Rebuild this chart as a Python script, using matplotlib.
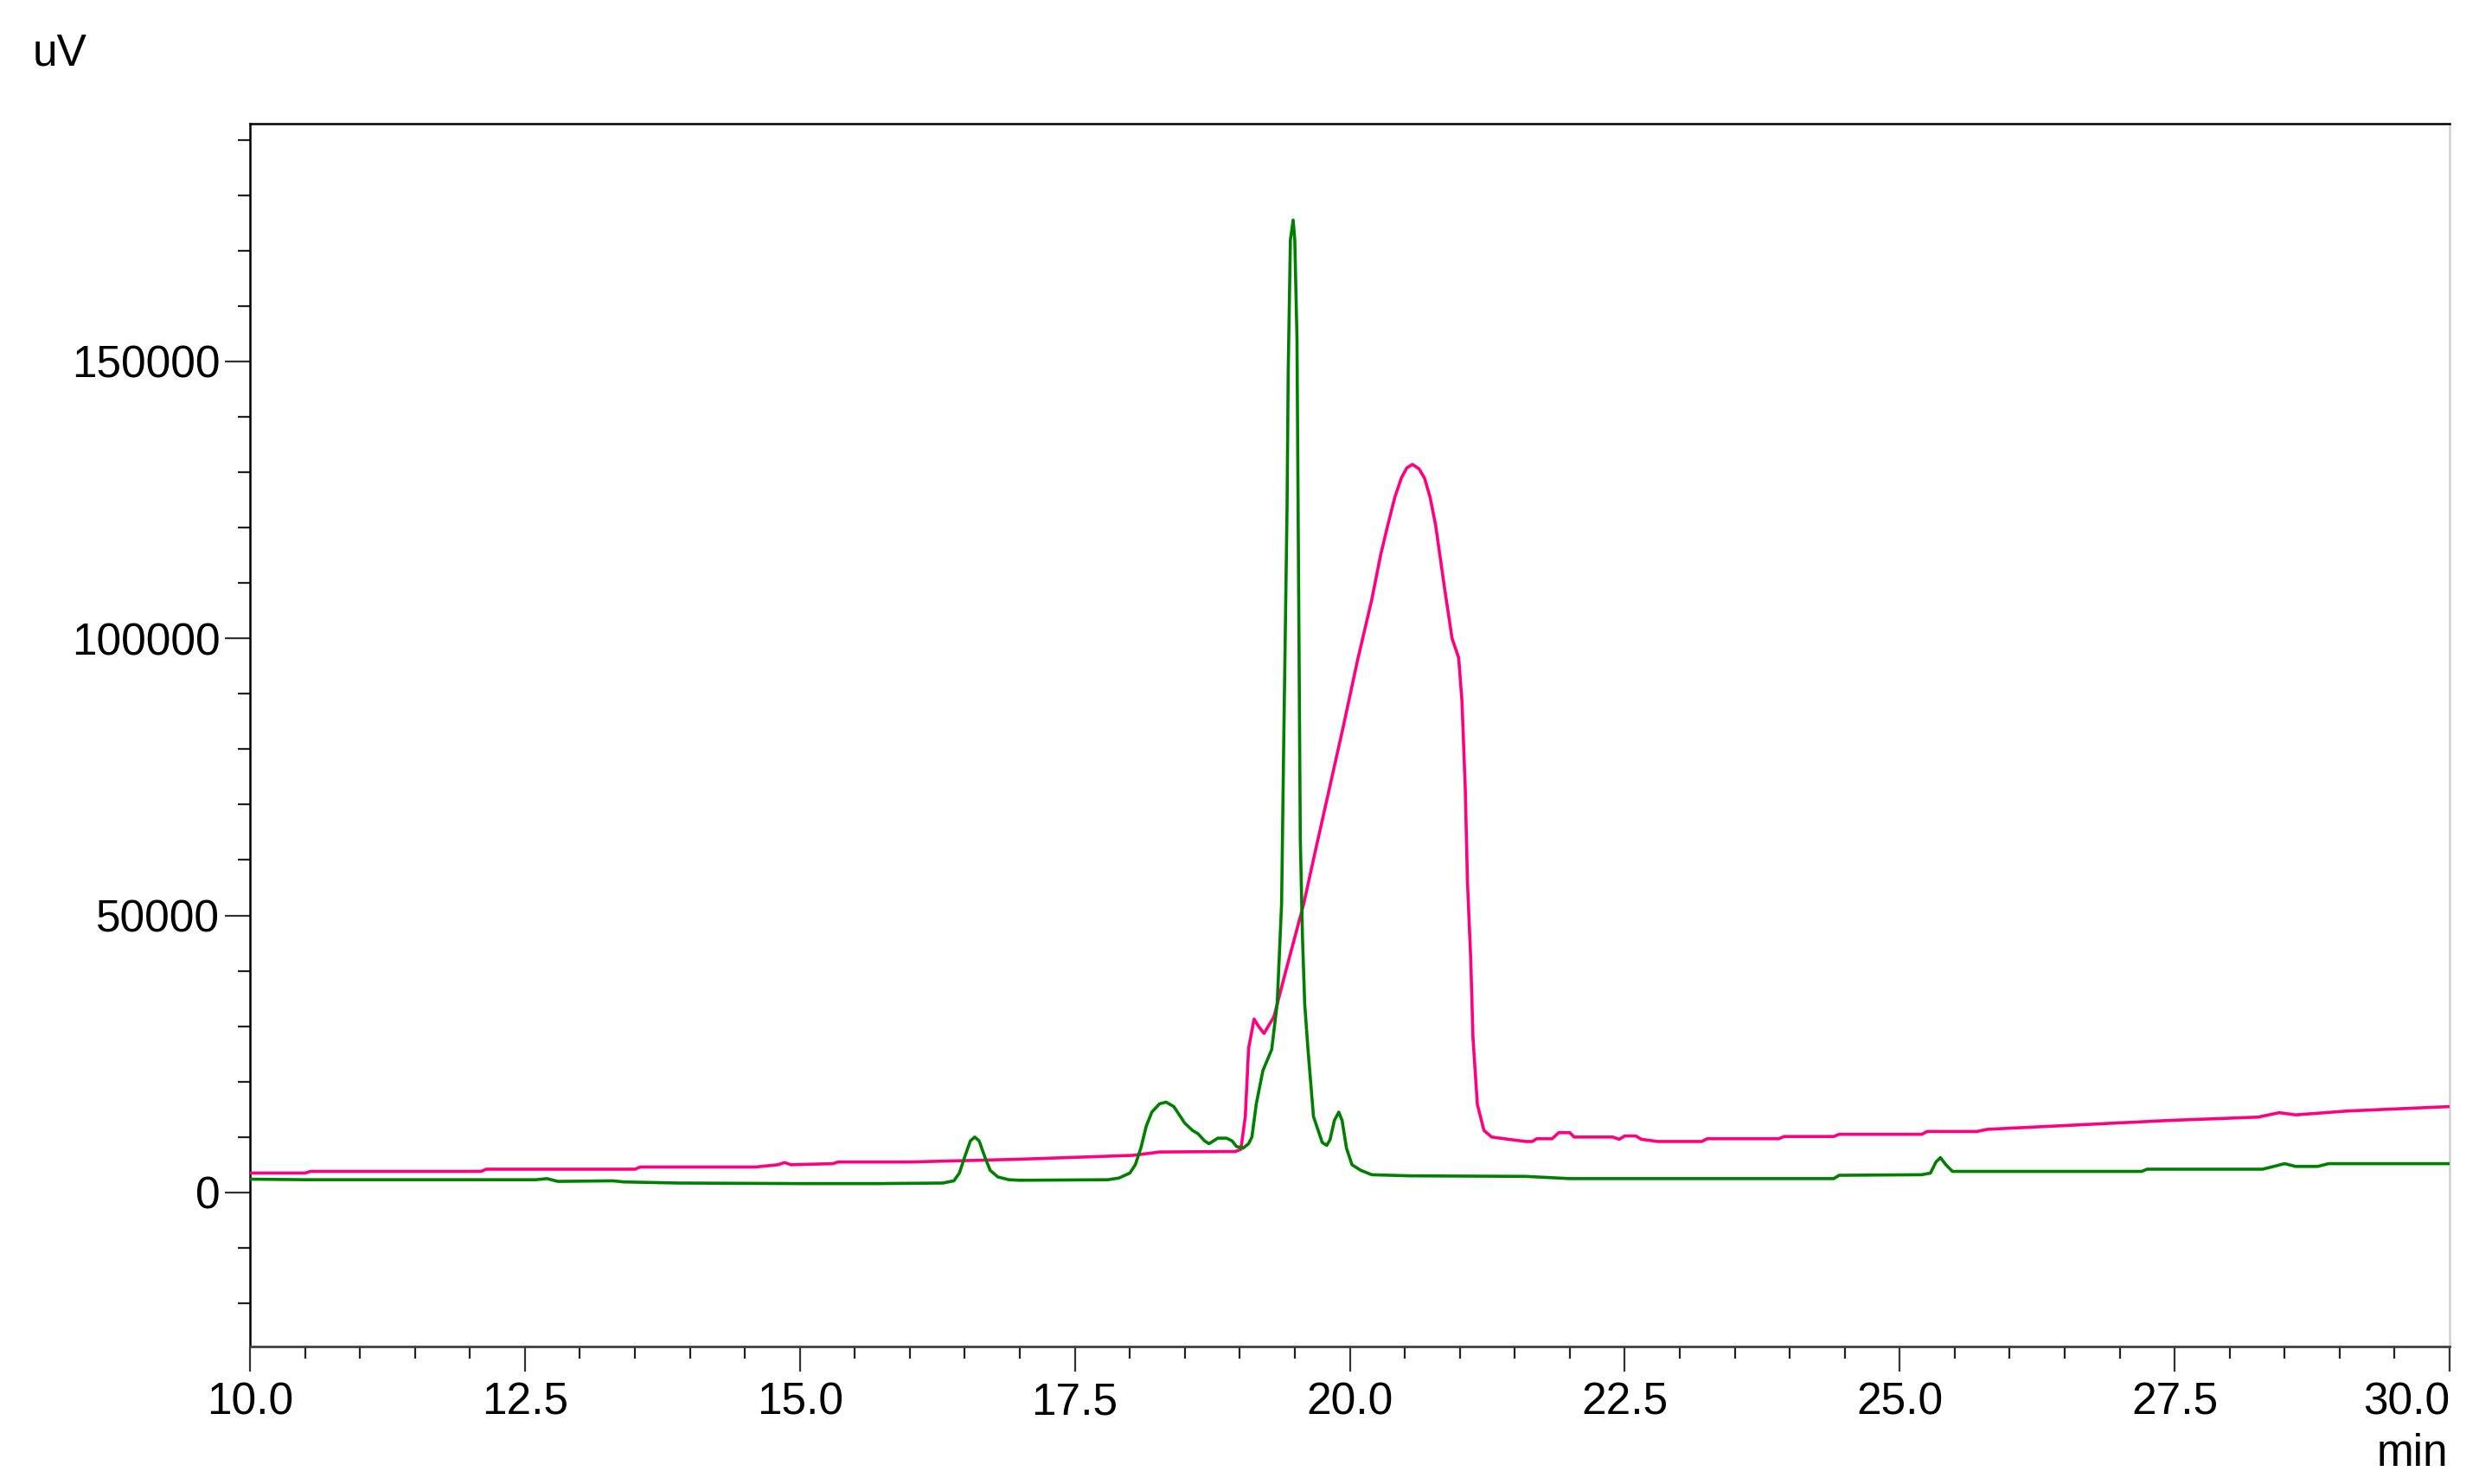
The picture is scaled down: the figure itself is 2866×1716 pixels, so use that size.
import matplotlib
matplotlib.use("Agg")
import matplotlib.pyplot as plt
from matplotlib.ticker import MultipleLocator, FixedLocator

# ---------------- data ----------------
green_t = [10.00, 10.50, 12.60, 12.70, 12.80, 13.30, 13.40, 13.90, 15.00, 15.70,
           16.30, 16.40, 16.45, 16.50, 16.55, 16.59, 16.63, 16.68, 16.73, 16.80,
           16.90, 17.00, 17.80, 17.90, 18.00, 18.05, 18.10, 18.15, 18.20, 18.27,
           18.33, 18.40, 18.45, 18.50, 18.57, 18.62, 18.68, 18.72, 18.76, 18.80,
           18.88, 18.93, 18.97, 19.03, 19.08, 19.11, 19.15, 19.21, 19.29, 19.34,
           19.38, 19.40, 19.43, 19.44, 19.46, 19.485, 19.50, 19.52, 19.53, 19.54,
           19.55, 19.57, 19.59, 19.62, 19.67, 19.75, 19.79, 19.82, 19.86, 19.90,
           19.93, 19.97, 20.02, 20.10, 20.20, 20.55, 21.60, 22.00, 24.40, 24.45,
           25.20, 25.28, 25.33, 25.37, 25.42, 25.48, 25.80, 27.20, 27.25, 28.30,
           28.40, 28.50, 28.60, 28.80, 28.90, 30.00]
green_v = [2400, 2300, 2300, 2500, 2000, 2100, 1900, 1700, 1600, 1600,
           1700, 2100, 3500, 6500, 9300, 10000, 9300, 6500, 4000, 2800,
           2300, 2200, 2300, 2600, 3500, 5000, 8000, 12000, 14500, 16000,
           16300, 15500, 14000, 12500, 11200, 10600, 9300, 8800, 9300, 9800,
           9800, 9300, 8300, 8000, 8800, 10000, 16000, 22000, 25800, 34100,
           52100, 82000, 124000, 148000, 171900, 175500, 171900, 154000, 124000, 94000,
           64000, 46000, 34100, 25800, 13700, 9000, 8500, 9500, 13000, 14500,
           13000, 8000, 5000, 4000, 3200, 3000, 2900, 2500, 2500, 3100,
           3200, 3500, 5500, 6300, 5000, 3800, 3800, 3800, 4200, 4200,
           4700, 5200, 4700, 4700, 5200, 5200]

pink_t = [10.00, 10.50, 10.55, 12.10, 12.15, 13.50, 13.55, 14.60, 14.80, 14.86,
          14.92, 15.30, 15.35, 16.00, 17.00, 18.03, 18.27, 18.96, 19.01, 19.05,
          19.08, 19.13, 19.17, 19.22, 19.31, 19.42, 19.58, 19.68, 19.81, 19.94,
          20.07, 20.20, 20.28, 20.34, 20.41, 20.47, 20.52, 20.57, 20.63, 20.68,
          20.73, 20.78, 20.86, 20.93, 20.99, 21.02, 21.05, 21.07, 21.10, 21.12,
          21.16, 21.22, 21.29, 21.48, 21.60, 21.66, 21.70, 21.84, 21.90, 22.00,
          22.04, 22.39, 22.45, 22.50, 22.60, 22.65, 22.80, 23.20, 23.25, 23.90,
          23.95, 24.40, 24.45, 25.20, 25.25, 25.70, 25.80, 26.63, 27.45, 28.26,
          28.45, 28.60, 29.07, 30.00]
pink_v = [3500, 3500, 3800, 3800, 4200, 4200, 4600, 4600, 5000, 5400,
          5000, 5200, 5500, 5500, 6000, 6700, 7300, 7400, 7800, 13700,
          26000, 31300, 30000, 28700, 31700, 40100, 52000, 61000, 72500, 84000,
          96000, 107000, 115000, 120000, 125500, 129000, 130800, 131400, 130600, 128900,
          125500, 120500, 109300, 100000, 96500, 88700, 72900, 56100, 42000, 28000,
          15900, 11200, 10000, 9500, 9200, 9200, 9700, 9700, 10800, 10800,
          10000, 10000, 9600, 10200, 10200, 9600, 9200, 9200, 9700, 9700,
          10100, 10100, 10500, 10500, 11000, 11000, 11400, 12200, 13000, 13600,
          14400, 14000, 14700, 15500]

x_ticks = [10.0, 12.5, 15.0, 17.5, 20.0, 22.5, 25.0, 27.5, 30.0]
x_labels = ["10.0", "12.5", "15.0", "17.5", "20.0", "22.5", "25.0", "27.5", "30.0"]
y_ticks = [0, 50000, 100000, 150000]
y_labels = ["0", "50000", "100000", "150000"]

# ---------------- figure ----------------
plt.rcParams['font.family'] = ['Liberation Sans', 'DejaVu Sans']
W, H = 2866, 1716
fig = plt.figure(figsize=(W / 100, H / 100), dpi=100)
ax = fig.add_axes([289 / W, 1 - 1557 / H, (2832 - 289) / W, (1557 - 143) / H])

ax.plot(pink_t, pink_v, color='#FF0080', lw=2.6, zorder=3)
ax.plot(green_t, green_v, color='#008000', lw=2.6, zorder=4)

ax.set_xlim(10.0, 30.0)
ax.set_ylim(-27800, 192900)

ax.set_xticks(x_ticks)
xl = ax.set_xticklabels(x_labels)
xl[-1].set_horizontalalignment('right')
ax.xaxis.set_minor_locator(MultipleLocator(0.5))
ax.set_yticks(y_ticks)
ax.set_yticklabels(y_labels)
ax.yaxis.set_minor_locator(FixedLocator([v for v in range(-20000, 192000, 10000) if v % 50000 != 0]))

ax.tick_params(axis='both', which='major', direction='out', length=21, width=1.6,
               color='#333333', labelsize=37, labelcolor='black')
ax.tick_params(axis='both', which='minor', direction='out', length=10, width=1.6,
               color='#222222')
ax.tick_params(axis='y', which='major', pad=4)
ax.tick_params(axis='x', which='major', pad=8)

ax.spines['left'].set_color('black')
ax.spines['left'].set_linewidth(1.8)
ax.spines['top'].set_color('black')
ax.spines['top'].set_linewidth(1.8)
ax.spines['bottom'].set_color('#404040')
ax.spines['bottom'].set_linewidth(2.0)
ax.spines['right'].set_color('#d0d0d0')
ax.spines['right'].set_linewidth(1.8)

fig.text(38 / W, 1 - 75 / H, "uV", fontsize=37, ha='left', va='baseline')
fig.text(2830 / W, 1 - 1695 / H, "min", fontsize=37, ha='right', va='baseline')

fig.savefig("out.png", dpi=100, facecolor='white')
